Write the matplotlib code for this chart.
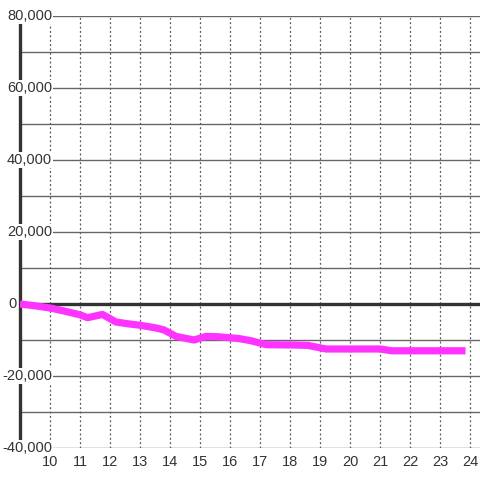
import matplotlib
matplotlib.use("Agg")
import matplotlib.pyplot as plt
import matplotlib.transforms as mtransforms

# hour of day vs cumulative value
hours = [9.0, 9.5, 10.0, 10.5, 11.0, 11.25, 11.75, 12.2, 12.6, 13.0, 13.5, 13.8,
         14.2, 14.8, 15.2, 15.6, 16.3, 16.7, 17.2, 18.2, 18.6, 19.2, 20.0, 21.0,
         21.4, 22.0, 23.0, 23.85]
values = [0, -500, -1100, -2000, -3000, -3800, -2900, -5000, -5500, -5900, -6600, -7200,
          -9000, -10000, -9000, -9100, -9600, -10200, -11300, -11400, -11500, -12500, -12500, -12500,
          -13000, -13000, -13000, -13000]

x_ticks = list(range(10, 25))
y_grid = list(range(-40000, 80001, 10000))
y_labels = [-40000, -20000, 0, 20000, 40000, 60000, 80000]

plt.rcParams["font.family"] = ["Liberation Sans", "DejaVu Sans"]

fig = plt.figure(figsize=(4.8, 4.8), dpi=100)
ax = fig.add_axes([20 / 480, 32 / 480, 460 / 480, 432 / 480])
ax.set_xlim(9, 9 + 460 / 30)
ax.set_ylim(-40000, 80000)

for s in ["top", "right", "bottom"]:
    ax.spines[s].set_visible(False)
ax.spines["left"].set_linewidth(2.4)
ax.spines["left"].set_color("#333333")
ax.spines["left"].set_zorder(3)

for x in x_ticks:
    ax.axvline(x, color="#555555", linestyle=(0, (1.5, 2)), linewidth=0.9, zorder=1)
for y in y_grid:
    if y == 0:
        continue
    ax.axhline(y, color="#666666", linewidth=1, zorder=1)
ax.axhline(0, color="#333333", linewidth=2.4, zorder=2)

ax.plot(hours, values, color="#ff33ff", linewidth=5.2, solid_joinstyle="round",
        solid_capstyle="butt", zorder=4)

ax.set_xticks([])
ax.set_yticks([])

for y in y_labels:
    if y == 0:
        ax.text(9 - 12 / 30, y, "0", ha="left", va="center", fontsize=10.5,
                color="#333333", zorder=5, clip_on=False)
        continue
    ax.text(9 + 32 / 30, y, f"{y:,}", ha="right", va="center", fontsize=10.5,
            color="#333333", zorder=5, clip_on=False,
            bbox=dict(facecolor="white", edgecolor="none", pad=1.0))

below = ax.transData + mtransforms.ScaledTranslation(0, -7 / 100, fig.dpi_scale_trans)
for x in x_ticks:
    ax.text(x, -40000, str(x), ha="center", va="top", fontsize=10.5,
            color="#333333", clip_on=False, transform=below)

fig.savefig("out.png", dpi=100)
